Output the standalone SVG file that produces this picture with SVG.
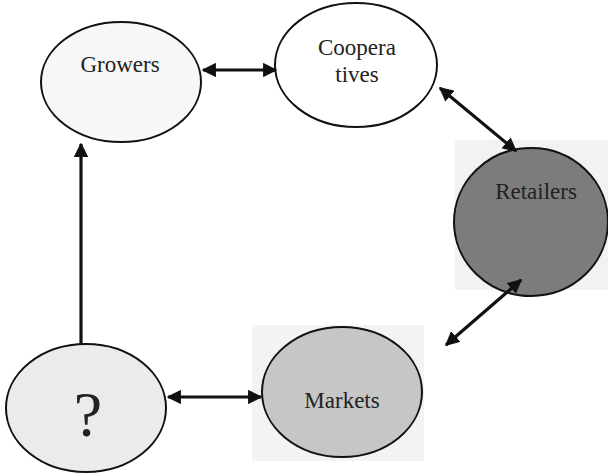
<svg xmlns="http://www.w3.org/2000/svg" width="608" height="476" viewBox="0 0 608 476">
<defs>
<style>
.node{stroke:#111;stroke-width:2}
.lbl{font-family:"Liberation Serif","Times New Roman",serif;font-size:23px;text-anchor:middle;fill:#222}
.con{stroke:#111;stroke-width:3.2;fill:none}
</style>
<marker id="ah" viewBox="0 0 10 10" refX="9" refY="5" markerWidth="4.5" markerHeight="4.5" orient="auto-start-reverse" markerUnits="strokeWidth">
<path d="M0,0 L10,5 L0,10 Z" fill="#111"/>
</marker>
</defs>
<rect width="608" height="476" fill="#fff"/>
<rect x="455" y="140" width="153" height="150" fill="#f2f2f2"/>
<rect x="252" y="325" width="172" height="136" fill="#f3f3f3"/>
<g id="growers">
<ellipse class="node" cx="121" cy="82" rx="80" ry="60" fill="#f7f7f7"/>
<text class="lbl" x="120" y="72">Growers</text>
</g>
<g id="cooperatives">
<ellipse class="node" cx="356" cy="65" rx="81" ry="62" fill="#fff"/>
<text class="lbl" x="357" y="55">Coopera</text>
<text class="lbl" x="357" y="82">tives</text>
</g>
<g id="retailers">
<ellipse class="node" cx="531" cy="222" rx="77" ry="74" fill="#7c7c7c" stroke="#333"/>
<text class="lbl" x="536" y="199" fill="#333">Retailers</text>
</g>
<g id="unknown">
<ellipse class="node" cx="86" cy="408" rx="80" ry="64" fill="#ebebeb"/>
<text class="lbl" x="88" y="436" style="font-size:64px">?</text>
</g>
<g id="markets">
<ellipse class="node" cx="342" cy="392" rx="80" ry="65" fill="#c6c6c6"/>
<text class="lbl" x="342" y="408" fill="#333">Markets</text>
</g>
<g id="connectors">
<line class="con" x1="203" y1="70" x2="276" y2="70" marker-start="url(#ah)" marker-end="url(#ah)"/>
<line class="con" x1="440" y1="88" x2="516" y2="151" marker-start="url(#ah)" marker-end="url(#ah)"/>
<line class="con" x1="521" y1="280" x2="446" y2="345" marker-start="url(#ah)" marker-end="url(#ah)"/>
<line class="con" x1="168" y1="397" x2="261" y2="397" marker-start="url(#ah)" marker-end="url(#ah)"/>
<line class="con" x1="81" y1="344" x2="81" y2="144" marker-end="url(#ah)"/>
</g>
</svg>
